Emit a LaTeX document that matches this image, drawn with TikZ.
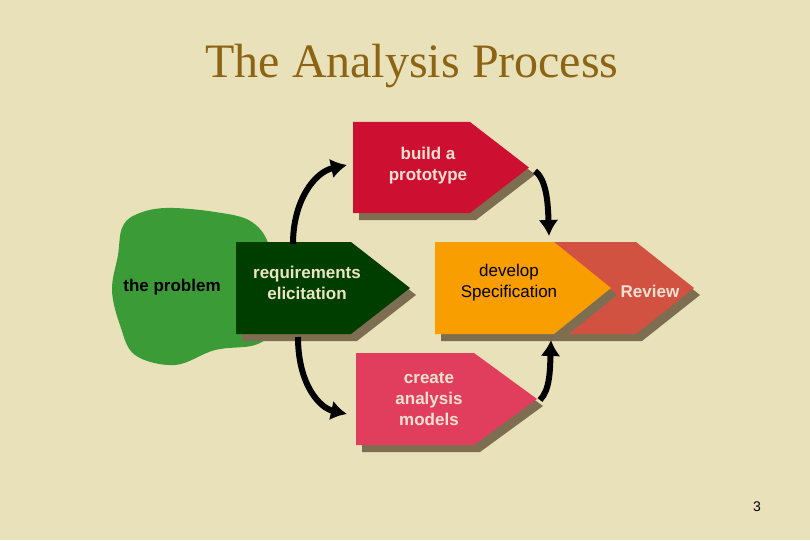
\documentclass[tikz,border=0pt]{standalone}
\usepackage{fontspec}
\setmainfont{Liberation Sans}
\newfontfamily\titlefont{Liberation Serif}
\usetikzlibrary{arrows.meta}
\definecolor{bg}{HTML}{E9E1B9}
\definecolor{shd}{HTML}{7D6E52}
\definecolor{cbuild}{RGB}{205,16,50}
\definecolor{crev}{RGB}{210,82,65}
\definecolor{cdev}{RGB}{248,158,0}
\definecolor{creq}{RGB}{0,62,0}
\definecolor{ccre}{RGB}{224,62,92}
\definecolor{cblob}{RGB}{58,155,55}
\definecolor{ctitle}{RGB}{140,100,20}
\definecolor{tlight}{RGB}{245,225,210}
\definecolor{tlight2}{RGB}{235,228,195}
\begin{document}
\begin{tikzpicture}[x=1pt,y=-1pt,
  lbl/.style={font=\bfseries\fontsize{17}{21}\selectfont, align=center, inner sep=0pt},
  arr/.style={line width=6pt, -{Latex[length=16pt,width=20pt]}}]
\fill[bg] (0,0) rectangle (810,540);
\useasboundingbox (0,0) rectangle (810,540);
\node[font=\titlefont\fontsize{48}{52}\selectfont, text=ctitle] (title) at (412,66) {The Analysis Process};
\fill[cblob] plot[smooth cycle, tension=0.6] coordinates {(135,215) (165,208) (215,212) (252,222) (270,250) (268,300) (272,330) (255,345) (215,350) (175,365) (135,355) (120,325) (112,290) (118,255) (122,228)};
\node[lbl] (prob) at (172,287) {the problem};
\def\chev#1#2#3#4#5#6{%
  \fill[shd] (#1+6,#4+7) -- (#2+6,#4+7) -- (#3+6,#4/2+#5/2+7) -- (#2+6,#5+7) -- (#1+6,#5+7) -- cycle;
  \fill[#6] (#1,#4) -- (#2,#4) -- (#3,#4/2+#5/2) -- (#2,#5) -- (#1,#5) -- cycle;}
\chev{353}{470}{529}{122}{213}{cbuild}
\chev{554}{636}{694}{242}{334}{crev}
\chev{435}{554}{611}{242}{334}{cdev}
\chev{236}{351}{410}{242}{334}{creq}
\chev{356}{474}{537}{353}{445}{ccre}
\node[lbl, text=tlight] (build) at (428,166) {build a\\prototype};
\node[lbl, text=tlight2] (req) at (307,283) {requirements\\elicitation};
\node[lbl, text=black, font=\fontsize{17}{21}\selectfont] (dev) at (509,283) {develop\\Specification};
\node[lbl, text=tlight] (rev) at (650,291) {Review};
\node[lbl, text=tlight] (cre) at (429,399) {create\\analysis\\models};
\coordinate (a1) at (293,244); \coordinate (a1e) at (347,165);
\coordinate (a2) at (535,171); \coordinate (a2e) at (549,236);
\coordinate (a3) at (298,337); \coordinate (a3e) at (347,414);
\coordinate (a4) at (540,400); \coordinate (a4e) at (551,340);
\draw[arr] (a1) .. controls (293,200) and (315,172) .. (a1e);
\draw[arr] (a2) .. controls (547,180) and (548,205) .. (a2e);
\draw[arr] (a3) .. controls (298,385) and (320,408) .. (a3e);
\draw[arr] (a4) .. controls (550,390) and (550,370) .. (a4e);
\node[font=\fontsize{14}{16}\selectfont] (pg) at (757,507) {3};
\end{tikzpicture}
\end{document}
